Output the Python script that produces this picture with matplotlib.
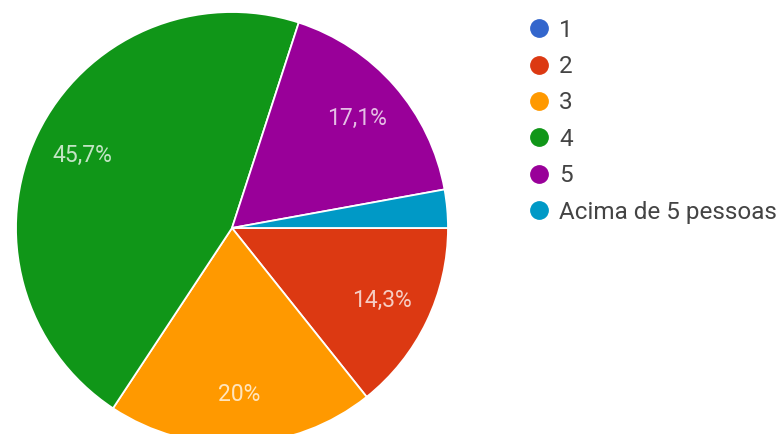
import matplotlib
matplotlib.use("Agg")
import matplotlib.pyplot as plt
from matplotlib.lines import Line2D

plt.rcParams['font.family'] = ['Roboto', 'DejaVu Sans']

# data
categories = ['1', '2', '3', '4', '5', 'Acima de 5 pessoas']
counts = [0, 5, 7, 16, 6, 1]
colors = ['#3366CC', '#DC3912', '#FF9900', '#109618', '#990099', '#0099C6']

total = sum(counts)

def fmt(p):
    if p < 5:
        return ''
    s = ('%.1f' % p).rstrip('0').rstrip('.')
    return s.replace('.', ',') + '%'

fig = plt.figure(figsize=(7.8, 4.34), dpi=100)
r_px = 216
cx, cy = 232, 434 - 228
ax = fig.add_axes([(cx - r_px) / 780, (cy - r_px) / 434, 2 * r_px / 780, 2 * r_px / 434])

# skip the empty slice so the pie has no zero wedge
vals = [v for v in counts[1:]]
cols = colors[1:]
wedges, texts, autotexts = ax.pie(vals, colors=cols, startangle=0, counterclock=False,
                                  autopct=fmt, pctdistance=0.77, radius=1,
                                  wedgeprops=dict(edgecolor='white', linewidth=1.3))
for t in autotexts:
    t.set_color('white')
    t.set_alpha(0.75)
    t.set_fontsize(16.5)
ax.set_xlim(-1, 1)
ax.set_ylim(-1, 1)
ax.set_aspect('equal')

handles = [Line2D([], [], marker='o', linestyle='', markersize=12.5,
                  markerfacecolor=c, markeredgecolor=c) for c in colors]
leg = fig.legend(handles, categories, loc='upper left', bbox_to_anchor=(517 / 780, 1 - 9 / 434),
                 frameon=False, fontsize=17.5, labelspacing=0.55, handletextpad=0.33,
                 handlelength=1.0, borderaxespad=0)
for t in leg.get_texts():
    t.set_color('#444444')

fig.savefig('out.png', dpi=100)
